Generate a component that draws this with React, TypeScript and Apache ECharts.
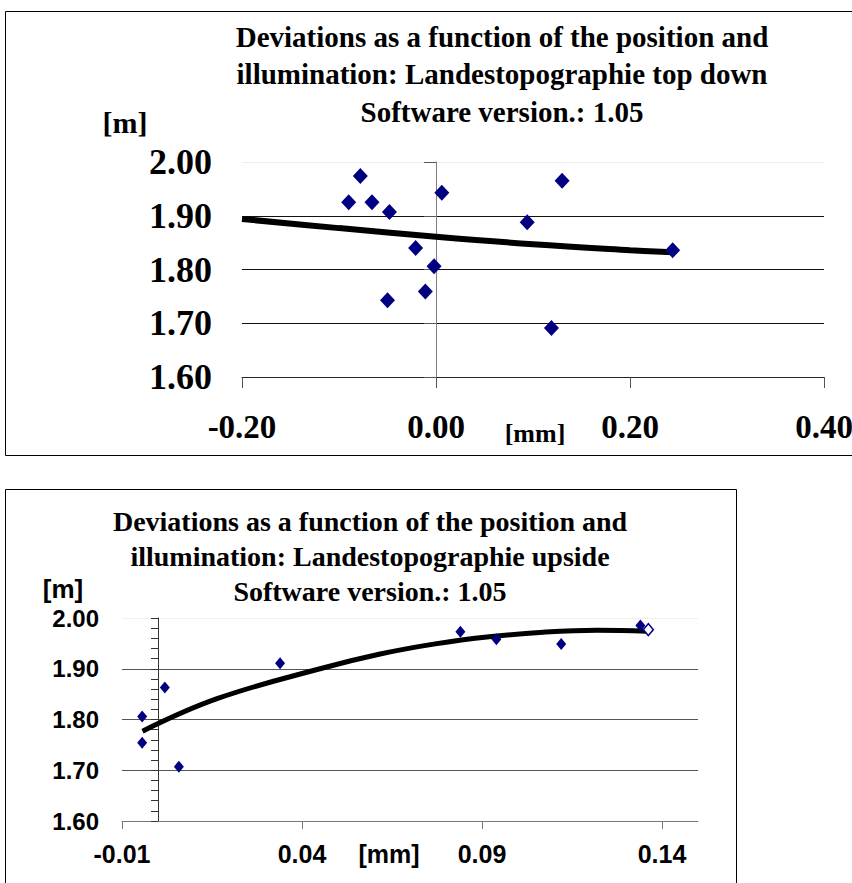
import React, { useEffect, useRef } from "react";
import * as echarts from "echarts";

// ---- Top chart data (top down) ----
const topTitle = "Deviations as a function of the position and\nillumination: Landestopographie top down\nSoftware version.: 1.05";
const topX = [-0.078, -0.090, -0.066, -0.048, 0.006, 0.130, 0.094, -0.021, -0.002, -0.011, -0.050, 0.119, 0.244];
const topY = [1.974, 1.925, 1.925, 1.907, 1.943, 1.965, 1.888, 1.840, 1.806, 1.759, 1.743, 1.691, 1.836];
const topTrendX = [-0.2, -0.1, 0.0, 0.1, 0.2, 0.244];
const topTrendY = [1.894, 1.877, 1.861, 1.847, 1.836, 1.832];

// ---- Bottom chart data (upside) ----
const botTitle = "Deviations as a function of the position and\nillumination: Landestopographie upside\nSoftware version.: 1.05";
const botX = [-0.0044, -0.0044, 0.0019, 0.0058, 0.0339, 0.084, 0.094, 0.112, 0.134];
const botY = [1.806, 1.754, 1.863, 1.707, 1.911, 1.973, 1.958, 1.949, 1.985];
const botHollowX = [0.1362];
const botHollowY = [1.977];
const botTrendX = [-0.0043, 0.0164, 0.045, 0.0617, 0.077, 0.092, 0.107, 0.122, 0.136];
const botTrendY = [1.777, 1.841, 1.900, 1.929, 1.949, 1.963, 1.972, 1.976, 1.974];
const botXTicks = [-0.01, 0.04, 0.09, 0.14];

const yUnit = "[m]";
const xUnit = "[mm]";

const SERIF = "Liberation Serif";
const SANS = "Liberation Sans";

const zip = (xs: number[], ys: number[]) => xs.map((x, i) => [x, ys[i]]);

export default function App() {
  const ref = useRef<HTMLDivElement>(null);
  useEffect(() => {
    if (!ref.current) return;
    const chart = echarts.init(ref.current, null, { renderer: "svg" });
    const option: any = {
      animation: false,
      backgroundColor: "#ffffff",
      grid: [
        { left: 242, top: 162, width: 582, height: 215, outerBoundsMode: "none", containLabel: false },
        { left: 122, top: 618, width: 576, height: 203, outerBoundsMode: "none", containLabel: false },
      ],
      xAxis: [
        {
          type: "value", gridIndex: 0, min: -0.2, max: 0.4, interval: 0.2,
          axisLine: { show: true, onZero: false, lineStyle: { color: "#222", width: 1 } },
          axisTick: { show: true, length: 11, lineStyle: { color: "#555" } },
          splitLine: { show: false },
          axisLabel: {
            margin: 33, color: "#000", fontFamily: SERIF, fontWeight: "bold", fontSize: 33,
            formatter: (v: number) => v.toFixed(2),
          },
        },
        {
          type: "value", gridIndex: 1, min: -0.01, max: 0.15,
          axisLine: { show: true, onZero: false, lineStyle: { color: "#777", width: 1 } },
          axisTick: { show: true, length: 8, customValues: botXTicks, lineStyle: { color: "#777" } },
          splitLine: { show: false },
          axisLabel: {
            customValues: botXTicks, margin: 20, color: "#000", fontFamily: SANS, fontWeight: "bold", fontSize: 25,
            formatter: (v: number) => v.toFixed(2),
          },
        },
      ],
      yAxis: [
        {
          type: "value", gridIndex: 0, min: 1.6, max: 2.0, interval: 0.1,
          axisLine: { show: false, onZero: false },
          axisTick: { show: false },
          splitLine: { show: true, lineStyle: { color: ["#111", "#111", "#111", "#111", "#eeeeee"], width: 1 } },
          axisLabel: {
            margin: 30, color: "#000", fontFamily: SERIF, fontWeight: "bold", fontSize: 36,
            formatter: (v: number) => v.toFixed(2),
          },
        },
        {
          type: "value", gridIndex: 0, min: 1.6, max: 2.0, interval: 0.1, position: "left",
          axisLine: { show: true, onZero: true, lineStyle: { color: "#808080", width: 1 } },
          axisTick: { show: true, length: 12, lineStyle: { color: "#555" } },
          splitLine: { show: false },
          axisLabel: { show: false },
        },
        {
          type: "value", gridIndex: 1, min: 1.6, max: 2.0, interval: 0.1,
          axisLine: { show: false, onZero: false },
          axisTick: { show: false },
          splitLine: { show: true, lineStyle: { color: ["#555", "#555", "#555", "#555", "#f0f0f0"], width: 1 } },
          axisLabel: {
            margin: 23, color: "#000", fontFamily: SANS, fontWeight: "bold", fontSize: 24,
            formatter: (v: number) => v.toFixed(2),
          },
        },
        {
          type: "value", gridIndex: 1, min: 1.6, max: 2.0, interval: 0.1, position: "left",
          axisLine: { show: true, onZero: true, lineStyle: { color: "#333", width: 1 } },
          axisTick: { show: true, length: 7, lineStyle: { color: "#333" } },
          minorTick: { show: true, splitNumber: 5, length: 7, lineStyle: { color: "#333" } },
          splitLine: { show: false },
          axisLabel: { show: false },
        },
      ],
      series: [
        {
          type: "line", xAxisIndex: 0, yAxisIndex: 0, data: zip(topTrendX, topTrendY),
          smooth: 0.4, showSymbol: false, symbol: "none",
          lineStyle: { color: "#000", width: 6 }, z: 2,
        },
        {
          type: "scatter", xAxisIndex: 0, yAxisIndex: 0, data: zip(topX, topY),
          symbol: "diamond", symbolSize: [15, 16], itemStyle: { color: "#000080", opacity: 1 }, z: 3,
        },
        {
          type: "line", xAxisIndex: 1, yAxisIndex: 2, data: zip(botTrendX, botTrendY),
          smooth: 0.4, showSymbol: false, symbol: "none",
          lineStyle: { color: "#000", width: 5 }, z: 2,
        },
        {
          type: "scatter", xAxisIndex: 1, yAxisIndex: 2, data: zip(botX, botY),
          symbol: "diamond", symbolSize: [10, 12], itemStyle: { color: "#000080", opacity: 1 }, z: 3,
        },
        {
          type: "scatter", xAxisIndex: 1, yAxisIndex: 2, data: zip(botHollowX, botHollowY),
          symbol: "diamond", symbolSize: [10, 12],
          itemStyle: { color: "#ffffff", borderColor: "#000080", borderWidth: 1.5, opacity: 1 }, z: 3,
        },
      ],
      graphic: [
        {
          type: "rect", silent: true, z: -1,
          shape: { x: 5.5, y: 11.5, width: 900, height: 444 },
          style: { fill: "none", stroke: "#000", lineWidth: 1 },
        },
        {
          type: "rect", silent: true, z: -1,
          shape: { x: 5.5, y: 489.5, width: 731, height: 460 },
          style: { fill: "none", stroke: "#000", lineWidth: 1 },
        },
        {
          type: "text", x: 502, y: 18,
          style: {
            text: topTitle, align: "center", verticalAlign: "top",
            font: `bold 29px "${SERIF}"`, lineHeight: 37.5, fill: "#000",
          },
        },
        {
          type: "text", x: 125, y: 122,
          style: { text: yUnit, align: "center", verticalAlign: "middle", font: `bold 30px "${SERIF}"`, fill: "#000" },
        },
        {
          type: "text", x: 535, y: 433,
          style: { text: xUnit, align: "center", verticalAlign: "middle", font: `bold 26px "${SERIF}"`, fill: "#000" },
        },
        {
          type: "text", x: 370, y: 504,
          style: {
            text: botTitle, align: "center", verticalAlign: "top",
            font: `bold 28px "${SERIF}"`, lineHeight: 35, fill: "#000",
          },
        },
        {
          type: "text", x: 63, y: 589,
          style: { text: yUnit, align: "center", verticalAlign: "middle", font: `bold 26px "${SANS}"`, fill: "#000" },
        },
        {
          type: "text", x: 389, y: 854,
          style: { text: xUnit, align: "center", verticalAlign: "middle", font: `bold 25px "${SANS}"`, fill: "#000" },
        },
      ],
    };
    chart.setOption(option);
    return () => chart.dispose();
  }, []);
  return (
    <div
      ref={ref}
      style={{ position: "fixed", left: 0, top: 0, width: 852, height: 883, background: "#fff" }}
    />
  );
}
